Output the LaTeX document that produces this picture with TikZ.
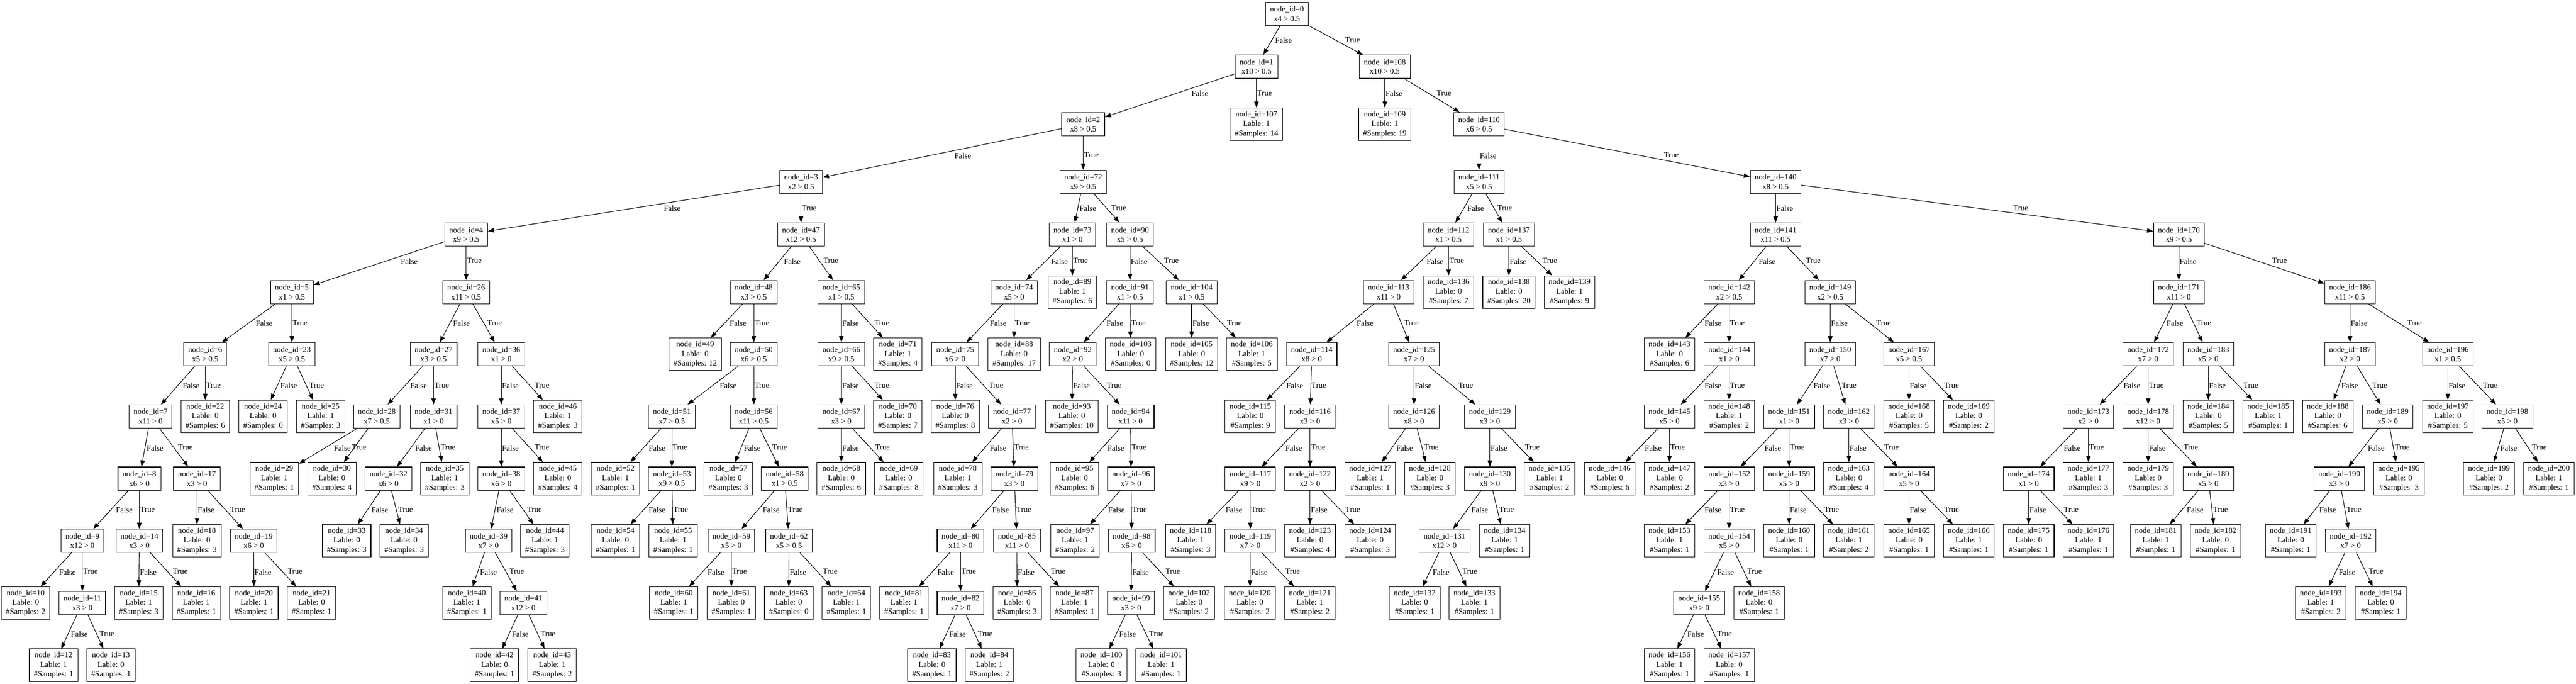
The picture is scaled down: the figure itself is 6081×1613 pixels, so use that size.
\documentclass[tikz,border=0pt]{standalone}
\usepackage{fontspec}
\setmainfont{Liberation Serif}
\usetikzlibrary{arrows.meta,calc}

\begin{document}
\begin{tikzpicture}[x=0.5pt,y=-0.5pt,
	treebox/.style={draw,line width=0.67pt,align=center,inner xsep=5.28pt,inner ysep=0pt,font=\fontsize{9.33}{11.2}\selectfont},
	testnode/.style={treebox,minimum height=27.4pt},
	leafnode/.style={treebox,minimum height=38.35pt},
	arr/.style={line width=0.67pt,-{Triangle[length=7.3pt,width=5.3pt]}},
	edgelab/.style={inner xsep=0.6pt,inner ysep=0pt,minimum height=11pt,font=\fontsize{9.33}{11.2}\selectfont},
	flab/.style={edgelab,anchor=north west},
	tlab/.style={edgelab,anchor=south west}]
	\path [use as bounding box,fill=white] (0,0) rectangle (6081,1613);

	\node [testnode] (n0) at (3038,32.7) {node\_id=0\\x4 > 0.5};

	\node [testnode] (n1) at (2966,157.4) {node\_id=1\\x10 > 0.5};
	\node [testnode] (n108) at (3269,157.4) {node\_id=108\\x10 > 0.5};

	\node [testnode] (n2) at (2557,293.1) {node\_id=2\\x8 > 0.5};
	\node [leafnode] (n107) at (2966,293.1) {node\_id=107\\Lable: 1\\\#Samples: 14};
	\node [leafnode] (n109) at (3269,293.1) {node\_id=109\\Lable: 1\\\#Samples: 19};
	\node [testnode] (n110) at (3491.5,293.1) {node\_id=110\\x6 > 0.5};

	\node [testnode] (n3) at (1891,428.8) {node\_id=3\\x2 > 0.5};
	\node [testnode] (n72) at (2557,428.8) {node\_id=72\\x9 > 0.5};
	\node [testnode] (n111) at (3491.5,428.8) {node\_id=111\\x5 > 0.5};
	\node [testnode] (n140) at (4191.5,428.8) {node\_id=140\\x8 > 0.5};

	\node [testnode] (n4) at (1100.5,553.5) {node\_id=4\\x9 > 0.5};
	\node [testnode] (n47) at (1891,553.5) {node\_id=47\\x12 > 0.5};
	\node [testnode] (n73) at (2531.5,553.5) {node\_id=73\\x1 > 0};
	\node [testnode] (n90) at (2667.5,553.5) {node\_id=90\\x5 > 0.5};
	\node [testnode] (n112) at (3419.5,553.5) {node\_id=112\\x1 > 0.5};
	\node [testnode] (n137) at (3562,553.5) {node\_id=137\\x1 > 0.5};
	\node [testnode] (n141) at (4191.5,553.5) {node\_id=141\\x11 > 0.5};
	\node [testnode] (n170) at (5143.5,553.5) {node\_id=170\\x9 > 0.5};

	\node [testnode] (n5) at (689,689.2) {node\_id=5\\x1 > 0.5};
	\node [testnode] (n26) at (1100.5,689.2) {node\_id=26\\x11 > 0.5};
	\node [testnode] (n48) at (1779.5,689.2) {node\_id=48\\x3 > 0.5};
	\node [testnode] (n65) at (1986,689.2) {node\_id=65\\x1 > 0.5};
	\node [testnode] (n74) at (2394,689.2) {node\_id=74\\x5 > 0};
	\node [leafnode] (n89) at (2531.5,689.2) {node\_id=89\\Lable: 1\\\#Samples: 6};
	\node [testnode] (n91) at (2667.5,689.2) {node\_id=91\\x1 > 0.5};
	\node [testnode] (n104) at (2813,689.2) {node\_id=104\\x1 > 0.5};
	\node [testnode] (n113) at (3278,689.2) {node\_id=113\\x11 > 0};
	\node [leafnode] (n136) at (3419.5,689.2) {node\_id=136\\Lable: 0\\\#Samples: 7};
	\node [leafnode] (n138) at (3562,689.2) {node\_id=138\\Lable: 0\\\#Samples: 20};
	\node [leafnode] (n139) at (3705,689.2) {node\_id=139\\Lable: 1\\\#Samples: 9};
	\node [testnode] (n142) at (4082,689.2) {node\_id=142\\x2 > 0.5};
	\node [testnode] (n149) at (4320.5,689.2) {node\_id=149\\x2 > 0.5};
	\node [testnode] (n171) at (5143.5,689.2) {node\_id=171\\x11 > 0};
	\node [testnode] (n186) at (5547.5,689.2) {node\_id=186\\x11 > 0.5};

	\node [testnode] (n6) at (484.5,835.9) {node\_id=6\\x5 > 0.5};
	\node [testnode] (n23) at (689,835.9) {node\_id=23\\x5 > 0.5};
	\node [testnode] (n27) at (1023.5,835.9) {node\_id=27\\x3 > 0.5};
	\node [testnode] (n36) at (1183.5,835.9) {node\_id=36\\x1 > 0};
	\node [leafnode] (n49) at (1641,835.9) {node\_id=49\\Lable: 0\\\#Samples: 12};
	\node [testnode] (n50) at (1779.5,835.9) {node\_id=50\\x6 > 0.5};
	\node [testnode] (n66) at (1986,835.9) {node\_id=66\\x9 > 0.5};
	\node [leafnode] (n71) at (2119.5,835.9) {node\_id=71\\Lable: 1\\\#Samples: 4};
	\node [testnode] (n75) at (2255,835.9) {node\_id=75\\x6 > 0};
	\node [leafnode] (n88) at (2394,835.9) {node\_id=88\\Lable: 0\\\#Samples: 17};
	\node [testnode] (n92) at (2532.5,835.9) {node\_id=92\\x2 > 0};
	\node [leafnode] (n103) at (2669,835.9) {node\_id=103\\Lable: 0\\\#Samples: 0};
	\node [leafnode] (n105) at (2813,835.9) {node\_id=105\\Lable: 0\\\#Samples: 12};
	\node [leafnode] (n106) at (2955,835.9) {node\_id=106\\Lable: 1\\\#Samples: 5};
	\node [testnode] (n114) at (3096.5,835.9) {node\_id=114\\x8 > 0};
	\node [testnode] (n125) at (3338,835.9) {node\_id=125\\x7 > 0};
	\node [leafnode] (n143) at (3941,835.9) {node\_id=143\\Lable: 0\\\#Samples: 6};
	\node [testnode] (n144) at (4082,835.9) {node\_id=144\\x1 > 0};
	\node [testnode] (n150) at (4320.5,835.9) {node\_id=150\\x7 > 0};
	\node [testnode] (n167) at (4506.5,835.9) {node\_id=167\\x5 > 0.5};
	\node [testnode] (n172) at (5071,835.9) {node\_id=172\\x7 > 0};
	\node [testnode] (n183) at (5213,835.9) {node\_id=183\\x5 > 0};
	\node [testnode] (n187) at (5547.5,835.9) {node\_id=187\\x2 > 0};
	\node [testnode] (n196) at (5778.5,835.9) {node\_id=196\\x1 > 0.5};

	\node [testnode] (n7) at (355.5,982.6) {node\_id=7\\x11 > 0};
	\node [leafnode] (n22) at (484.5,982.6) {node\_id=22\\Lable: 0\\\#Samples: 6};
	\node [leafnode] (n24) at (621,982.6) {node\_id=24\\Lable: 0\\\#Samples: 0};
	\node [leafnode] (n25) at (757,982.6) {node\_id=25\\Lable: 1\\\#Samples: 3};
	\node [testnode] (n28) at (889.5,982.6) {node\_id=28\\x7 > 0.5};
	\node [testnode] (n31) at (1023.5,982.6) {node\_id=31\\x1 > 0};
	\node [testnode] (n37) at (1183.5,982.6) {node\_id=37\\x5 > 0};
	\node [leafnode] (n46) at (1317,982.6) {node\_id=46\\Lable: 1\\\#Samples: 3};
	\node [testnode] (n51) at (1586,982.6) {node\_id=51\\x7 > 0.5};
	\node [testnode] (n56) at (1779.5,982.6) {node\_id=56\\x11 > 0.5};
	\node [testnode] (n67) at (1986,982.6) {node\_id=67\\x3 > 0};
	\node [leafnode] (n70) at (2119.5,982.6) {node\_id=70\\Lable: 0\\\#Samples: 7};
	\node [leafnode] (n76) at (2255,982.6) {node\_id=76\\Lable: 0\\\#Samples: 8};
	\node [testnode] (n77) at (2389,982.6) {node\_id=77\\x2 > 0};
	\node [leafnode] (n93) at (2530,982.6) {node\_id=93\\Lable: 0\\\#Samples: 10};
	\node [testnode] (n94) at (2669,982.6) {node\_id=94\\x11 > 0};
	\node [leafnode] (n115) at (2951.5,982.6) {node\_id=115\\Lable: 0\\\#Samples: 9};
	\node [testnode] (n116) at (3092.5,982.6) {node\_id=116\\x3 > 0};
	\node [testnode] (n126) at (3338,982.6) {node\_id=126\\x8 > 0};
	\node [testnode] (n129) at (3517,982.6) {node\_id=129\\x3 > 0};
	\node [testnode] (n145) at (3941,982.6) {node\_id=145\\x5 > 0};
	\node [leafnode] (n148) at (4082,982.6) {node\_id=148\\Lable: 1\\\#Samples: 2};
	\node [testnode] (n151) at (4223.5,982.6) {node\_id=151\\x1 > 0};
	\node [testnode] (n162) at (4364.5,982.6) {node\_id=162\\x3 > 0};
	\node [leafnode] (n168) at (4506.5,982.6) {node\_id=168\\Lable: 0\\\#Samples: 5};
	\node [leafnode] (n169) at (4647.5,982.6) {node\_id=169\\Lable: 0\\\#Samples: 2};
	\node [testnode] (n173) at (4930,982.6) {node\_id=173\\x2 > 0};
	\node [testnode] (n178) at (5071,982.6) {node\_id=178\\x12 > 0};
	\node [leafnode] (n184) at (5213,982.6) {node\_id=184\\Lable: 0\\\#Samples: 5};
	\node [leafnode] (n185) at (5354.5,982.6) {node\_id=185\\Lable: 1\\\#Samples: 1};
	\node [leafnode] (n188) at (5495,982.6) {node\_id=188\\Lable: 0\\\#Samples: 6};
	\node [testnode] (n189) at (5636.5,982.6) {node\_id=189\\x5 > 0};
	\node [leafnode] (n197) at (5778.5,982.6) {node\_id=197\\Lable: 0\\\#Samples: 5};
	\node [testnode] (n198) at (5919,982.6) {node\_id=198\\x5 > 0};

	\node [testnode] (n8) at (329,1129.3) {node\_id=8\\x6 > 0};
	\node [testnode] (n17) at (465,1129.3) {node\_id=17\\x3 > 0};
	\node [leafnode] (n29) at (647.5,1129.3) {node\_id=29\\Lable: 1\\\#Samples: 1};
	\node [leafnode] (n30) at (783.5,1129.3) {node\_id=30\\Lable: 0\\\#Samples: 4};
	\node [testnode] (n32) at (917,1129.3) {node\_id=32\\x6 > 0};
	\node [leafnode] (n35) at (1050,1129.3) {node\_id=35\\Lable: 1\\\#Samples: 3};
	\node [testnode] (n38) at (1183.5,1129.3) {node\_id=38\\x6 > 0};
	\node [leafnode] (n45) at (1317,1129.3) {node\_id=45\\Lable: 0\\\#Samples: 4};
	\node [leafnode] (n52) at (1453,1129.3) {node\_id=52\\Lable: 1\\\#Samples: 1};
	\node [testnode] (n53) at (1586,1129.3) {node\_id=53\\x9 > 0.5};
	\node [leafnode] (n57) at (1719.5,1129.3) {node\_id=57\\Lable: 0\\\#Samples: 3};
	\node [testnode] (n58) at (1852.5,1129.3) {node\_id=58\\x1 > 0.5};
	\node [leafnode] (n68) at (1986,1129.3) {node\_id=68\\Lable: 0\\\#Samples: 6};
	\node [leafnode] (n69) at (2122,1129.3) {node\_id=69\\Lable: 0\\\#Samples: 8};
	\node [leafnode] (n78) at (2261,1129.3) {node\_id=78\\Lable: 1\\\#Samples: 3};
	\node [testnode] (n79) at (2394.5,1129.3) {node\_id=79\\x3 > 0};
	\node [leafnode] (n95) at (2536.5,1129.3) {node\_id=95\\Lable: 0\\\#Samples: 6};
	\node [testnode] (n96) at (2670,1129.3) {node\_id=96\\x7 > 0};
	\node [testnode] (n117) at (2951.5,1129.3) {node\_id=117\\x9 > 0};
	\node [testnode] (n122) at (3092.5,1129.3) {node\_id=122\\x2 > 0};
	\node [leafnode] (n127) at (3234.5,1129.3) {node\_id=127\\Lable: 1\\\#Samples: 1};
	\node [leafnode] (n128) at (3375.5,1129.3) {node\_id=128\\Lable: 0\\\#Samples: 3};
	\node [testnode] (n130) at (3517,1129.3) {node\_id=130\\x9 > 0};
	\node [leafnode] (n135) at (3658,1129.3) {node\_id=135\\Lable: 1\\\#Samples: 2};
	\node [leafnode] (n146) at (3800,1129.3) {node\_id=146\\Lable: 0\\\#Samples: 6};
	\node [leafnode] (n147) at (3941,1129.3) {node\_id=147\\Lable: 0\\\#Samples: 2};
	\node [testnode] (n152) at (4082,1129.3) {node\_id=152\\x3 > 0};
	\node [testnode] (n159) at (4223.5,1129.3) {node\_id=159\\x5 > 0};
	\node [leafnode] (n163) at (4364.5,1129.3) {node\_id=163\\Lable: 0\\\#Samples: 4};
	\node [testnode] (n164) at (4506.5,1129.3) {node\_id=164\\x5 > 0};
	\node [testnode] (n174) at (4789,1129.3) {node\_id=174\\x1 > 0};
	\node [leafnode] (n177) at (4930,1129.3) {node\_id=177\\Lable: 1\\\#Samples: 3};
	\node [leafnode] (n179) at (5071,1129.3) {node\_id=179\\Lable: 0\\\#Samples: 3};
	\node [testnode] (n180) at (5213,1129.3) {node\_id=180\\x5 > 0};
	\node [testnode] (n190) at (5522,1129.3) {node\_id=190\\x3 > 0};
	\node [leafnode] (n195) at (5663,1129.3) {node\_id=195\\Lable: 0\\\#Samples: 3};
	\node [leafnode] (n199) at (5875.5,1129.3) {node\_id=199\\Lable: 0\\\#Samples: 2};
	\node [leafnode] (n200) at (6017,1129.3) {node\_id=200\\Lable: 1\\\#Samples: 1};

	\node [testnode] (n9) at (194.5,1276) {node\_id=9\\x12 > 0};
	\node [testnode] (n14) at (329,1276) {node\_id=14\\x3 > 0};
	\node [leafnode] (n18) at (465,1276) {node\_id=18\\Lable: 0\\\#Samples: 3};
	\node [testnode] (n19) at (599,1276) {node\_id=19\\x6 > 0};
	\node [leafnode] (n33) at (818.5,1276) {node\_id=33\\Lable: 0\\\#Samples: 3};
	\node [leafnode] (n34) at (954,1276) {node\_id=34\\Lable: 0\\\#Samples: 3};
	\node [testnode] (n39) at (1153.5,1276) {node\_id=39\\x7 > 0};
	\node [leafnode] (n44) at (1286.5,1276) {node\_id=44\\Lable: 1\\\#Samples: 3};
	\node [leafnode] (n54) at (1453,1276) {node\_id=54\\Lable: 0\\\#Samples: 1};
	\node [leafnode] (n55) at (1589,1276) {node\_id=55\\Lable: 1\\\#Samples: 1};
	\node [testnode] (n59) at (1726.5,1276) {node\_id=59\\x5 > 0};
	\node [testnode] (n62) at (1862.5,1276) {node\_id=62\\x5 > 0.5};
	\node [testnode] (n80) at (2267.5,1276) {node\_id=80\\x11 > 0};
	\node [testnode] (n85) at (2400.5,1276) {node\_id=85\\x11 > 0};
	\node [leafnode] (n97) at (2538,1276) {node\_id=97\\Lable: 1\\\#Samples: 2};
	\node [testnode] (n98) at (2671.5,1276) {node\_id=98\\x6 > 0};
	\node [leafnode] (n118) at (2810.5,1276) {node\_id=118\\Lable: 1\\\#Samples: 3};
	\node [testnode] (n119) at (2951.5,1276) {node\_id=119\\x7 > 0};
	\node [leafnode] (n123) at (3092.5,1276) {node\_id=123\\Lable: 0\\\#Samples: 4};
	\node [leafnode] (n124) at (3234.5,1276) {node\_id=124\\Lable: 0\\\#Samples: 3};
	\node [testnode] (n131) at (3410,1276) {node\_id=131\\x12 > 0};
	\node [leafnode] (n134) at (3552,1276) {node\_id=134\\Lable: 1\\\#Samples: 1};
	\node [leafnode] (n153) at (3941,1276) {node\_id=153\\Lable: 1\\\#Samples: 1};
	\node [testnode] (n154) at (4082,1276) {node\_id=154\\x5 > 0};
	\node [leafnode] (n160) at (4223.5,1276) {node\_id=160\\Lable: 0\\\#Samples: 1};
	\node [leafnode] (n161) at (4364.5,1276) {node\_id=161\\Lable: 1\\\#Samples: 2};
	\node [leafnode] (n165) at (4506.5,1276) {node\_id=165\\Lable: 0\\\#Samples: 1};
	\node [leafnode] (n166) at (4647.5,1276) {node\_id=166\\Lable: 1\\\#Samples: 1};
	\node [leafnode] (n175) at (4789,1276) {node\_id=175\\Lable: 0\\\#Samples: 1};
	\node [leafnode] (n176) at (4930,1276) {node\_id=176\\Lable: 1\\\#Samples: 1};
	\node [leafnode] (n181) at (5089,1276) {node\_id=181\\Lable: 1\\\#Samples: 1};
	\node [leafnode] (n182) at (5230,1276) {node\_id=182\\Lable: 0\\\#Samples: 1};
	\node [leafnode] (n191) at (5407.5,1276) {node\_id=191\\Lable: 0\\\#Samples: 1};
	\node [testnode] (n192) at (5549,1276) {node\_id=192\\x7 > 0};

	\node [leafnode] (n10) at (60.5,1422.7) {node\_id=10\\Lable: 0\\\#Samples: 2};
	\node [testnode] (n11) at (194.5,1422.7) {node\_id=11\\x3 > 0};
	\node [leafnode] (n15) at (327.5,1422.7) {node\_id=15\\Lable: 1\\\#Samples: 3};
	\node [leafnode] (n16) at (463.5,1422.7) {node\_id=16\\Lable: 1\\\#Samples: 1};
	\node [leafnode] (n20) at (599.5,1422.7) {node\_id=20\\Lable: 1\\\#Samples: 1};
	\node [leafnode] (n21) at (735.5,1422.7) {node\_id=21\\Lable: 0\\\#Samples: 1};
	\node [leafnode] (n40) at (1102,1422.7) {node\_id=40\\Lable: 1\\\#Samples: 1};
	\node [testnode] (n41) at (1235.5,1422.7) {node\_id=41\\x12 > 0};
	\node [leafnode] (n60) at (1590.5,1422.7) {node\_id=60\\Lable: 1\\\#Samples: 1};
	\node [leafnode] (n61) at (1726.5,1422.7) {node\_id=61\\Lable: 0\\\#Samples: 1};
	\node [leafnode] (n63) at (1862,1422.7) {node\_id=63\\Lable: 0\\\#Samples: 0};
	\node [leafnode] (n64) at (1998,1422.7) {node\_id=64\\Lable: 1\\\#Samples: 1};
	\node [leafnode] (n81) at (2134,1422.7) {node\_id=81\\Lable: 1\\\#Samples: 1};
	\node [testnode] (n82) at (2267.5,1422.7) {node\_id=82\\x7 > 0};
	\node [leafnode] (n86) at (2401,1422.7) {node\_id=86\\Lable: 0\\\#Samples: 3};
	\node [leafnode] (n87) at (2536.5,1422.7) {node\_id=87\\Lable: 1\\\#Samples: 1};
	\node [testnode] (n99) at (2670,1422.7) {node\_id=99\\x3 > 0};
	\node [leafnode] (n102) at (2807,1422.7) {node\_id=102\\Lable: 0\\\#Samples: 2};
	\node [leafnode] (n120) at (2950.5,1422.7) {node\_id=120\\Lable: 0\\\#Samples: 2};
	\node [leafnode] (n121) at (3092,1422.7) {node\_id=121\\Lable: 1\\\#Samples: 2};
	\node [leafnode] (n132) at (3339.5,1422.7) {node\_id=132\\Lable: 0\\\#Samples: 1};
	\node [leafnode] (n133) at (3480.5,1422.7) {node\_id=133\\Lable: 1\\\#Samples: 1};
	\node [testnode] (n155) at (4011,1422.7) {node\_id=155\\x9 > 0};
	\node [leafnode] (n158) at (4152.5,1422.7) {node\_id=158\\Lable: 0\\\#Samples: 1};
	\node [leafnode] (n193) at (5478.5,1422.7) {node\_id=193\\Lable: 1\\\#Samples: 2};
	\node [leafnode] (n194) at (5620,1422.7) {node\_id=194\\Lable: 0\\\#Samples: 1};

	\node [leafnode] (n12) at (126.5,1569.4) {node\_id=12\\Lable: 1\\\#Samples: 1};
	\node [leafnode] (n13) at (262,1569.4) {node\_id=13\\Lable: 0\\\#Samples: 1};
	\node [leafnode] (n42) at (1167.5,1569.4) {node\_id=42\\Lable: 0\\\#Samples: 1};
	\node [leafnode] (n43) at (1303.5,1569.4) {node\_id=43\\Lable: 1\\\#Samples: 2};
	\node [leafnode] (n83) at (2200,1569.4) {node\_id=83\\Lable: 0\\\#Samples: 1};
	\node [leafnode] (n84) at (2335.5,1569.4) {node\_id=84\\Lable: 1\\\#Samples: 2};
	\node [leafnode] (n100) at (2600,1569.4) {node\_id=100\\Lable: 0\\\#Samples: 3};
	\node [leafnode] (n101) at (2741,1569.4) {node\_id=101\\Lable: 1\\\#Samples: 1};
	\node [leafnode] (n156) at (3941,1569.4) {node\_id=156\\Lable: 1\\\#Samples: 1};
	\node [leafnode] (n157) at (4082,1569.4) {node\_id=157\\Lable: 0\\\#Samples: 1};

	\draw [arr] (n0) -- (n1) node [flab] at ($(n0)!.412!(n1)$) {False};
	\draw [arr] (n0) -- (n108) node [tlab] at ($(n0)!.588!(n108)$) {True};

	\draw [arr] (n1) -- (n2) node [flab] at ($(n1)!.379!(n2)$) {False};
	\draw [arr] (n1) -- (n107) node [tlab] at ($(n1)!.541!(n107)$) {True};
	\draw [arr] (n108) -- (n109) node [flab] at ($(n108)!.379!(n109)$) {False};
	\draw [arr] (n108) -- (n110) node [tlab] at ($(n108)!.541!(n110)$) {True};

	\draw [arr] (n2) -- (n3) node [flab] at ($(n2)!.459!(n3)$) {False};
	\draw [arr] (n2) -- (n72) node [tlab] at ($(n2)!.621!(n72)$) {True};
	\draw [arr] (n110) -- (n111) node [flab] at ($(n110)!.459!(n111)$) {False};
	\draw [arr] (n110) -- (n140) node [tlab] at ($(n110)!.621!(n140)$) {True};

	\draw [arr] (n3) -- (n4) node [flab] at ($(n3)!.412!(n4)$) {False};
	\draw [arr] (n3) -- (n47) node [tlab] at ($(n3)!.588!(n47)$) {True};
	\draw [arr] (n72) -- (n73) node [flab] at ($(n72)!.412!(n73)$) {False};
	\draw [arr] (n72) -- (n90) node [tlab] at ($(n72)!.588!(n90)$) {True};
	\draw [arr] (n111) -- (n112) node [flab] at ($(n111)!.412!(n112)$) {False};
	\draw [arr] (n111) -- (n137) node [tlab] at ($(n111)!.588!(n137)$) {True};
	\draw [arr] (n140) -- (n141) node [flab] at ($(n140)!.412!(n141)$) {False};
	\draw [arr] (n140) -- (n170) node [tlab] at ($(n140)!.588!(n170)$) {True};

	\draw [arr] (n4) -- (n5) node [flab] at ($(n4)!.379!(n5)$) {False};
	\draw [arr] (n4) -- (n26) node [tlab] at ($(n4)!.541!(n26)$) {True};
	\draw [arr] (n47) -- (n48) node [flab] at ($(n47)!.379!(n48)$) {False};
	\draw [arr] (n47) -- (n65) node [tlab] at ($(n47)!.541!(n65)$) {True};
	\draw [arr] (n73) -- (n74) node [flab] at ($(n73)!.379!(n74)$) {False};
	\draw [arr] (n73) -- (n89) node [tlab] at ($(n73)!.541!(n89)$) {True};
	\draw [arr] (n90) -- (n91) node [flab] at ($(n90)!.379!(n91)$) {False};
	\draw [arr] (n90) -- (n104) node [tlab] at ($(n90)!.541!(n104)$) {True};
	\draw [arr] (n112) -- (n113) node [flab] at ($(n112)!.379!(n113)$) {False};
	\draw [arr] (n112) -- (n136) node [tlab] at ($(n112)!.541!(n136)$) {True};
	\draw [arr] (n137) -- (n138) node [flab] at ($(n137)!.379!(n138)$) {False};
	\draw [arr] (n137) -- (n139) node [tlab] at ($(n137)!.541!(n139)$) {True};
	\draw [arr] (n141) -- (n142) node [flab] at ($(n141)!.379!(n142)$) {False};
	\draw [arr] (n141) -- (n149) node [tlab] at ($(n141)!.541!(n149)$) {True};
	\draw [arr] (n170) -- (n171) node [flab] at ($(n170)!.379!(n171)$) {False};
	\draw [arr] (n170) -- (n186) node [tlab] at ($(n170)!.541!(n186)$) {True};

	\draw [arr] (n5) -- (n6) node [flab] at ($(n5)!.425!(n6)$) {False};
	\draw [arr] (n5) -- (n23) node [tlab] at ($(n5)!.575!(n23)$) {True};
	\draw [arr] (n26) -- (n27) node [flab] at ($(n26)!.425!(n27)$) {False};
	\draw [arr] (n26) -- (n36) node [tlab] at ($(n26)!.575!(n36)$) {True};
	\draw [arr] (n48) -- (n49) node [flab] at ($(n48)!.425!(n49)$) {False};
	\draw [arr] (n48) -- (n50) node [tlab] at ($(n48)!.575!(n50)$) {True};
	\draw [arr] (n65) -- (n66) node [flab] at ($(n65)!.425!(n66)$) {False};
	\draw [arr] (n65) -- (n71) node [tlab] at ($(n65)!.575!(n71)$) {True};
	\draw [arr] (n74) -- (n75) node [flab] at ($(n74)!.425!(n75)$) {False};
	\draw [arr] (n74) -- (n88) node [tlab] at ($(n74)!.575!(n88)$) {True};
	\draw [arr] (n91) -- (n92) node [flab] at ($(n91)!.425!(n92)$) {False};
	\draw [arr] (n91) -- (n103) node [tlab] at ($(n91)!.575!(n103)$) {True};
	\draw [arr] (n104) -- (n105) node [flab] at ($(n104)!.425!(n105)$) {False};
	\draw [arr] (n104) -- (n106) node [tlab] at ($(n104)!.575!(n106)$) {True};
	\draw [arr] (n113) -- (n114) node [flab] at ($(n113)!.425!(n114)$) {False};
	\draw [arr] (n113) -- (n125) node [tlab] at ($(n113)!.575!(n125)$) {True};
	\draw [arr] (n142) -- (n143) node [flab] at ($(n142)!.425!(n143)$) {False};
	\draw [arr] (n142) -- (n144) node [tlab] at ($(n142)!.575!(n144)$) {True};
	\draw [arr] (n149) -- (n150) node [flab] at ($(n149)!.425!(n150)$) {False};
	\draw [arr] (n149) -- (n167) node [tlab] at ($(n149)!.575!(n167)$) {True};
	\draw [arr] (n171) -- (n172) node [flab] at ($(n171)!.425!(n172)$) {False};
	\draw [arr] (n171) -- (n183) node [tlab] at ($(n171)!.575!(n183)$) {True};
	\draw [arr] (n186) -- (n187) node [flab] at ($(n186)!.425!(n187)$) {False};
	\draw [arr] (n186) -- (n196) node [tlab] at ($(n186)!.575!(n196)$) {True};

	\draw [arr] (n6) -- (n7) node [flab] at ($(n6)!.425!(n7)$) {False};
	\draw [arr] (n6) -- (n22) node [tlab] at ($(n6)!.575!(n22)$) {True};
	\draw [arr] (n23) -- (n24) node [flab] at ($(n23)!.425!(n24)$) {False};
	\draw [arr] (n23) -- (n25) node [tlab] at ($(n23)!.575!(n25)$) {True};
	\draw [arr] (n27) -- (n28) node [flab] at ($(n27)!.425!(n28)$) {False};
	\draw [arr] (n27) -- (n31) node [tlab] at ($(n27)!.575!(n31)$) {True};
	\draw [arr] (n36) -- (n37) node [flab] at ($(n36)!.425!(n37)$) {False};
	\draw [arr] (n36) -- (n46) node [tlab] at ($(n36)!.575!(n46)$) {True};
	\draw [arr] (n50) -- (n51) node [flab] at ($(n50)!.425!(n51)$) {False};
	\draw [arr] (n50) -- (n56) node [tlab] at ($(n50)!.575!(n56)$) {True};
	\draw [arr] (n66) -- (n67) node [flab] at ($(n66)!.425!(n67)$) {False};
	\draw [arr] (n66) -- (n70) node [tlab] at ($(n66)!.575!(n70)$) {True};
	\draw [arr] (n75) -- (n76) node [flab] at ($(n75)!.425!(n76)$) {False};
	\draw [arr] (n75) -- (n77) node [tlab] at ($(n75)!.575!(n77)$) {True};
	\draw [arr] (n92) -- (n93) node [flab] at ($(n92)!.425!(n93)$) {False};
	\draw [arr] (n92) -- (n94) node [tlab] at ($(n92)!.575!(n94)$) {True};
	\draw [arr] (n114) -- (n115) node [flab] at ($(n114)!.425!(n115)$) {False};
	\draw [arr] (n114) -- (n116) node [tlab] at ($(n114)!.575!(n116)$) {True};
	\draw [arr] (n125) -- (n126) node [flab] at ($(n125)!.425!(n126)$) {False};
	\draw [arr] (n125) -- (n129) node [tlab] at ($(n125)!.575!(n129)$) {True};
	\draw [arr] (n144) -- (n145) node [flab] at ($(n144)!.425!(n145)$) {False};
	\draw [arr] (n144) -- (n148) node [tlab] at ($(n144)!.575!(n148)$) {True};
	\draw [arr] (n150) -- (n151) node [flab] at ($(n150)!.425!(n151)$) {False};
	\draw [arr] (n150) -- (n162) node [tlab] at ($(n150)!.575!(n162)$) {True};
	\draw [arr] (n167) -- (n168) node [flab] at ($(n167)!.425!(n168)$) {False};
	\draw [arr] (n167) -- (n169) node [tlab] at ($(n167)!.575!(n169)$) {True};
	\draw [arr] (n172) -- (n173) node [flab] at ($(n172)!.425!(n173)$) {False};
	\draw [arr] (n172) -- (n178) node [tlab] at ($(n172)!.575!(n178)$) {True};
	\draw [arr] (n183) -- (n184) node [flab] at ($(n183)!.425!(n184)$) {False};
	\draw [arr] (n183) -- (n185) node [tlab] at ($(n183)!.575!(n185)$) {True};
	\draw [arr] (n187) -- (n188) node [flab] at ($(n187)!.425!(n188)$) {False};
	\draw [arr] (n187) -- (n189) node [tlab] at ($(n187)!.575!(n189)$) {True};
	\draw [arr] (n196) -- (n197) node [flab] at ($(n196)!.425!(n197)$) {False};
	\draw [arr] (n196) -- (n198) node [tlab] at ($(n196)!.575!(n198)$) {True};

	\draw [arr] (n7) -- (n8) node [flab] at ($(n7)!.425!(n8)$) {False};
	\draw [arr] (n7) -- (n17) node [tlab] at ($(n7)!.575!(n17)$) {True};
	\draw [arr] (n28) -- (n29) node [flab] at ($(n28)!.425!(n29)$) {False};
	\draw [arr] (n28) -- (n30) node [tlab] at ($(n28)!.575!(n30)$) {True};
	\draw [arr] (n31) -- (n32) node [flab] at ($(n31)!.425!(n32)$) {False};
	\draw [arr] (n31) -- (n35) node [tlab] at ($(n31)!.575!(n35)$) {True};
	\draw [arr] (n37) -- (n38) node [flab] at ($(n37)!.425!(n38)$) {False};
	\draw [arr] (n37) -- (n45) node [tlab] at ($(n37)!.575!(n45)$) {True};
	\draw [arr] (n51) -- (n52) node [flab] at ($(n51)!.425!(n52)$) {False};
	\draw [arr] (n51) -- (n53) node [tlab] at ($(n51)!.575!(n53)$) {True};
	\draw [arr] (n56) -- (n57) node [flab] at ($(n56)!.425!(n57)$) {False};
	\draw [arr] (n56) -- (n58) node [tlab] at ($(n56)!.575!(n58)$) {True};
	\draw [arr] (n67) -- (n68) node [flab] at ($(n67)!.425!(n68)$) {False};
	\draw [arr] (n67) -- (n69) node [tlab] at ($(n67)!.575!(n69)$) {True};
	\draw [arr] (n77) -- (n78) node [flab] at ($(n77)!.425!(n78)$) {False};
	\draw [arr] (n77) -- (n79) node [tlab] at ($(n77)!.575!(n79)$) {True};
	\draw [arr] (n94) -- (n95) node [flab] at ($(n94)!.425!(n95)$) {False};
	\draw [arr] (n94) -- (n96) node [tlab] at ($(n94)!.575!(n96)$) {True};
	\draw [arr] (n116) -- (n117) node [flab] at ($(n116)!.425!(n117)$) {False};
	\draw [arr] (n116) -- (n122) node [tlab] at ($(n116)!.575!(n122)$) {True};
	\draw [arr] (n126) -- (n127) node [flab] at ($(n126)!.425!(n127)$) {False};
	\draw [arr] (n126) -- (n128) node [tlab] at ($(n126)!.575!(n128)$) {True};
	\draw [arr] (n129) -- (n130) node [flab] at ($(n129)!.425!(n130)$) {False};
	\draw [arr] (n129) -- (n135) node [tlab] at ($(n129)!.575!(n135)$) {True};
	\draw [arr] (n145) -- (n146) node [flab] at ($(n145)!.425!(n146)$) {False};
	\draw [arr] (n145) -- (n147) node [tlab] at ($(n145)!.575!(n147)$) {True};
	\draw [arr] (n151) -- (n152) node [flab] at ($(n151)!.425!(n152)$) {False};
	\draw [arr] (n151) -- (n159) node [tlab] at ($(n151)!.575!(n159)$) {True};
	\draw [arr] (n162) -- (n163) node [flab] at ($(n162)!.425!(n163)$) {False};
	\draw [arr] (n162) -- (n164) node [tlab] at ($(n162)!.575!(n164)$) {True};
	\draw [arr] (n173) -- (n174) node [flab] at ($(n173)!.425!(n174)$) {False};
	\draw [arr] (n173) -- (n177) node [tlab] at ($(n173)!.575!(n177)$) {True};
	\draw [arr] (n178) -- (n179) node [flab] at ($(n178)!.425!(n179)$) {False};
	\draw [arr] (n178) -- (n180) node [tlab] at ($(n178)!.575!(n180)$) {True};
	\draw [arr] (n189) -- (n190) node [flab] at ($(n189)!.425!(n190)$) {False};
	\draw [arr] (n189) -- (n195) node [tlab] at ($(n189)!.575!(n195)$) {True};
	\draw [arr] (n198) -- (n199) node [flab] at ($(n198)!.425!(n199)$) {False};
	\draw [arr] (n198) -- (n200) node [tlab] at ($(n198)!.575!(n200)$) {True};

	\draw [arr] (n8) -- (n9) node [flab] at ($(n8)!.425!(n9)$) {False};
	\draw [arr] (n8) -- (n14) node [tlab] at ($(n8)!.575!(n14)$) {True};
	\draw [arr] (n17) -- (n18) node [flab] at ($(n17)!.425!(n18)$) {False};
	\draw [arr] (n17) -- (n19) node [tlab] at ($(n17)!.575!(n19)$) {True};
	\draw [arr] (n32) -- (n33) node [flab] at ($(n32)!.425!(n33)$) {False};
	\draw [arr] (n32) -- (n34) node [tlab] at ($(n32)!.575!(n34)$) {True};
	\draw [arr] (n38) -- (n39) node [flab] at ($(n38)!.425!(n39)$) {False};
	\draw [arr] (n38) -- (n44) node [tlab] at ($(n38)!.575!(n44)$) {True};
	\draw [arr] (n53) -- (n54) node [flab] at ($(n53)!.425!(n54)$) {False};
	\draw [arr] (n53) -- (n55) node [tlab] at ($(n53)!.575!(n55)$) {True};
	\draw [arr] (n58) -- (n59) node [flab] at ($(n58)!.425!(n59)$) {False};
	\draw [arr] (n58) -- (n62) node [tlab] at ($(n58)!.575!(n62)$) {True};
	\draw [arr] (n79) -- (n80) node [flab] at ($(n79)!.425!(n80)$) {False};
	\draw [arr] (n79) -- (n85) node [tlab] at ($(n79)!.575!(n85)$) {True};
	\draw [arr] (n96) -- (n97) node [flab] at ($(n96)!.425!(n97)$) {False};
	\draw [arr] (n96) -- (n98) node [tlab] at ($(n96)!.575!(n98)$) {True};
	\draw [arr] (n117) -- (n118) node [flab] at ($(n117)!.425!(n118)$) {False};
	\draw [arr] (n117) -- (n119) node [tlab] at ($(n117)!.575!(n119)$) {True};
	\draw [arr] (n122) -- (n123) node [flab] at ($(n122)!.425!(n123)$) {False};
	\draw [arr] (n122) -- (n124) node [tlab] at ($(n122)!.575!(n124)$) {True};
	\draw [arr] (n130) -- (n131) node [flab] at ($(n130)!.425!(n131)$) {False};
	\draw [arr] (n130) -- (n134) node [tlab] at ($(n130)!.575!(n134)$) {True};
	\draw [arr] (n152) -- (n153) node [flab] at ($(n152)!.425!(n153)$) {False};
	\draw [arr] (n152) -- (n154) node [tlab] at ($(n152)!.575!(n154)$) {True};
	\draw [arr] (n159) -- (n160) node [flab] at ($(n159)!.425!(n160)$) {False};
	\draw [arr] (n159) -- (n161) node [tlab] at ($(n159)!.575!(n161)$) {True};
	\draw [arr] (n164) -- (n165) node [flab] at ($(n164)!.425!(n165)$) {False};
	\draw [arr] (n164) -- (n166) node [tlab] at ($(n164)!.575!(n166)$) {True};
	\draw [arr] (n174) -- (n175) node [flab] at ($(n174)!.425!(n175)$) {False};
	\draw [arr] (n174) -- (n176) node [tlab] at ($(n174)!.575!(n176)$) {True};
	\draw [arr] (n180) -- (n181) node [flab] at ($(n180)!.425!(n181)$) {False};
	\draw [arr] (n180) -- (n182) node [tlab] at ($(n180)!.575!(n182)$) {True};
	\draw [arr] (n190) -- (n191) node [flab] at ($(n190)!.425!(n191)$) {False};
	\draw [arr] (n190) -- (n192) node [tlab] at ($(n190)!.575!(n192)$) {True};

	\draw [arr] (n9) -- (n10) node [flab] at ($(n9)!.425!(n10)$) {False};
	\draw [arr] (n9) -- (n11) node [tlab] at ($(n9)!.575!(n11)$) {True};
	\draw [arr] (n14) -- (n15) node [flab] at ($(n14)!.425!(n15)$) {False};
	\draw [arr] (n14) -- (n16) node [tlab] at ($(n14)!.575!(n16)$) {True};
	\draw [arr] (n19) -- (n20) node [flab] at ($(n19)!.425!(n20)$) {False};
	\draw [arr] (n19) -- (n21) node [tlab] at ($(n19)!.575!(n21)$) {True};
	\draw [arr] (n39) -- (n40) node [flab] at ($(n39)!.425!(n40)$) {False};
	\draw [arr] (n39) -- (n41) node [tlab] at ($(n39)!.575!(n41)$) {True};
	\draw [arr] (n59) -- (n60) node [flab] at ($(n59)!.425!(n60)$) {False};
	\draw [arr] (n59) -- (n61) node [tlab] at ($(n59)!.575!(n61)$) {True};
	\draw [arr] (n62) -- (n63) node [flab] at ($(n62)!.425!(n63)$) {False};
	\draw [arr] (n62) -- (n64) node [tlab] at ($(n62)!.575!(n64)$) {True};
	\draw [arr] (n80) -- (n81) node [flab] at ($(n80)!.425!(n81)$) {False};
	\draw [arr] (n80) -- (n82) node [tlab] at ($(n80)!.575!(n82)$) {True};
	\draw [arr] (n85) -- (n86) node [flab] at ($(n85)!.425!(n86)$) {False};
	\draw [arr] (n85) -- (n87) node [tlab] at ($(n85)!.575!(n87)$) {True};
	\draw [arr] (n98) -- (n99) node [flab] at ($(n98)!.425!(n99)$) {False};
	\draw [arr] (n98) -- (n102) node [tlab] at ($(n98)!.575!(n102)$) {True};
	\draw [arr] (n119) -- (n120) node [flab] at ($(n119)!.425!(n120)$) {False};
	\draw [arr] (n119) -- (n121) node [tlab] at ($(n119)!.575!(n121)$) {True};
	\draw [arr] (n131) -- (n132) node [flab] at ($(n131)!.425!(n132)$) {False};
	\draw [arr] (n131) -- (n133) node [tlab] at ($(n131)!.575!(n133)$) {True};
	\draw [arr] (n154) -- (n155) node [flab] at ($(n154)!.425!(n155)$) {False};
	\draw [arr] (n154) -- (n158) node [tlab] at ($(n154)!.575!(n158)$) {True};
	\draw [arr] (n192) -- (n193) node [flab] at ($(n192)!.425!(n193)$) {False};
	\draw [arr] (n192) -- (n194) node [tlab] at ($(n192)!.575!(n194)$) {True};

	\draw [arr] (n11) -- (n12) node [flab] at ($(n11)!.425!(n12)$) {False};
	\draw [arr] (n11) -- (n13) node [tlab] at ($(n11)!.575!(n13)$) {True};
	\draw [arr] (n41) -- (n42) node [flab] at ($(n41)!.425!(n42)$) {False};
	\draw [arr] (n41) -- (n43) node [tlab] at ($(n41)!.575!(n43)$) {True};
	\draw [arr] (n82) -- (n83) node [flab] at ($(n82)!.425!(n83)$) {False};
	\draw [arr] (n82) -- (n84) node [tlab] at ($(n82)!.575!(n84)$) {True};
	\draw [arr] (n99) -- (n100) node [flab] at ($(n99)!.425!(n100)$) {False};
	\draw [arr] (n99) -- (n101) node [tlab] at ($(n99)!.575!(n101)$) {True};
	\draw [arr] (n155) -- (n156) node [flab] at ($(n155)!.425!(n156)$) {False};
	\draw [arr] (n155) -- (n157) node [tlab] at ($(n155)!.575!(n157)$) {True};
\end{tikzpicture}
\end{document}
